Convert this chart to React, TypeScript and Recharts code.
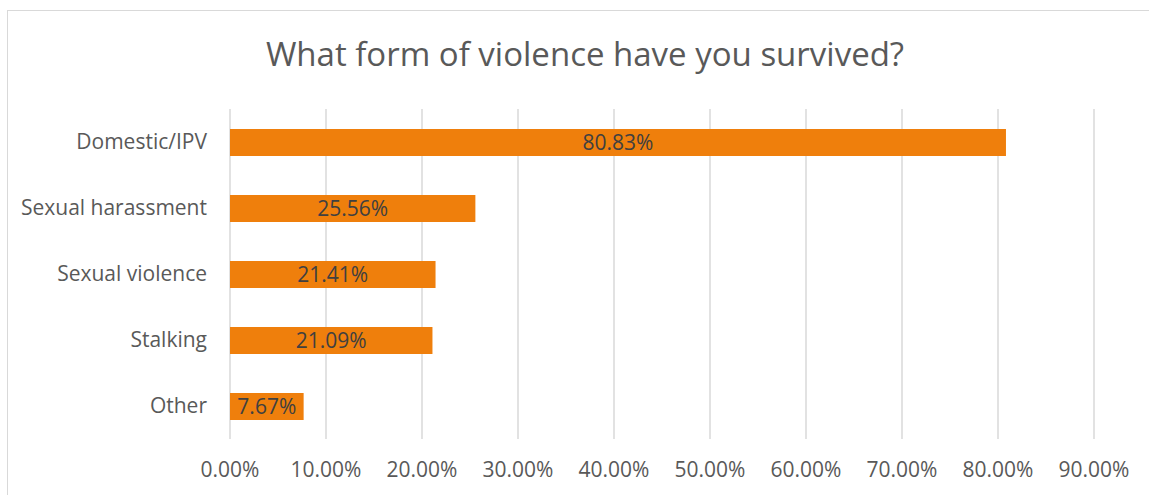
import React from 'react';
import { BarChart, Bar, XAxis, YAxis, CartesianGrid, LabelList } from 'recharts';

const categories = ['Domestic/IPV', 'Sexual harassment', 'Sexual violence', 'Stalking', 'Other'];
const shares = [80.83, 25.56, 21.41, 21.09, 7.67];
const xTicks = [0, 10, 20, 30, 40, 50, 60, 70, 80, 90];

const data = categories.map((name, i) => ({ name, value: shares[i] }));

const pct = (v: number) => `${Number(v).toFixed(2)}%`;
const FONT = '"Open Sans", sans-serif';

export default function App() {
  return (
    <div
      style={{
        position: 'absolute',
        left: 0,
        top: 0,
        width: 1149,
        height: 495,
        overflow: 'hidden',
        background: '#fff',
        fontFamily: FONT,
      }}
    >
      <div
        style={{
          position: 'absolute',
          left: 7,
          top: 10,
          width: 1160,
          height: 520,
          border: '1px solid #D9D9D9',
        }}
      />
      <div
        style={{
          position: 'absolute',
          left: 0,
          width: 1170,
          top: 31,
          textAlign: 'center',
          fontSize: 33,
          lineHeight: 'normal',
          color: '#595959',
        }}
      >
        What form of violence have you survived?
      </div>
      <div style={{ position: 'absolute', left: 0, top: 0 }}>
        <BarChart
          width={1149}
          height={495}
          data={data}
          layout="vertical"
          margin={{ top: 109, right: 55, bottom: 0, left: 0 }}
        >
          <CartesianGrid horizontal={false} stroke="#D9D9D9" strokeWidth={1.5} />
          <XAxis
            type="number"
            domain={[0, 90]}
            ticks={xTicks}
            tickFormatter={pct}
            axisLine={false}
            tickLine={false}
            tickSize={0}
            tickMargin={23}
            height={56}
            interval={0}
            tick={{ fill: '#595959', fontSize: 21, fontFamily: FONT }}
          />
          <YAxis
            type="category"
            dataKey="name"
            width={230}
            axisLine={false}
            tickLine={false}
            tickSize={0}
            tickMargin={23}
            tick={{ fill: '#595959', fontSize: 21, fontFamily: FONT }}
          />
          <Bar dataKey="value" fill="#EF7F0C" barSize={27} isAnimationActive={false}>
            <LabelList
              dataKey="value"
              position="center"
              formatter={(v: any) => pct(v)}
              fill="#404040"
              fontSize={21}
              fontFamily={FONT}
            />
          </Bar>
        </BarChart>
      </div>
    </div>
  );
}
